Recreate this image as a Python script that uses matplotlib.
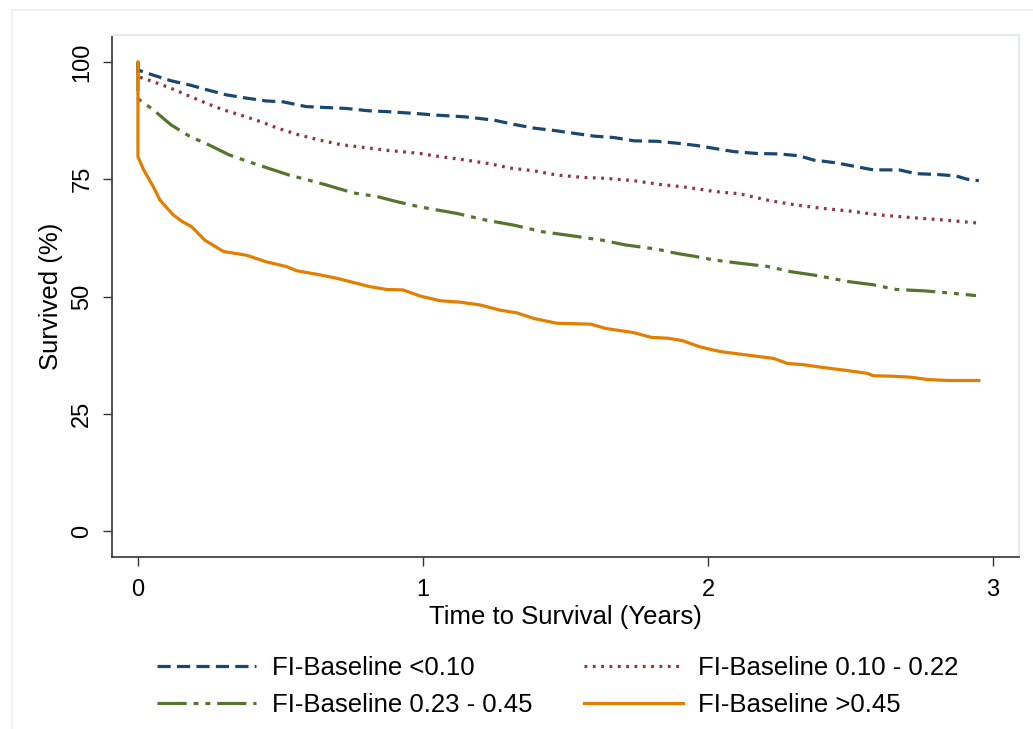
import matplotlib
matplotlib.use("Agg")
import matplotlib.pyplot as plt
from matplotlib.lines import Line2D

plt.rcParams['font.family'] = ['Liberation Sans', 'DejaVu Sans']
plt.rcParams['lines.scale_dashes'] = False

# survival curves (time in years, survival in %)
labels = ["FI-Baseline <0.10", "FI-Baseline 0.10 - 0.22",
          "FI-Baseline 0.23 - 0.45", "FI-Baseline >0.45"]

t_low = [0, 0, 0.054, 0.116, 0.182, 0.247, 0.31, 0.381, 0.45, 0.51, 0.59, 0.66, 0.73, 0.81, 0.88,
         0.98, 1.04, 1.15, 1.25, 1.31, 1.39, 1.46, 1.53, 1.60, 1.67, 1.74, 1.82, 1.89, 1.96, 2.02,
         2.09, 2.17, 2.25, 2.32, 2.37, 2.45, 2.51, 2.58, 2.67, 2.73, 2.81, 2.87, 2.91, 2.95]
s_low = [100, 98.3, 97.2, 96.0, 95.1, 94.0, 93.0, 92.3, 91.7, 91.5, 90.5, 90.3, 90.1, 89.6, 89.4,
         89.0, 88.7, 88.3, 87.6, 86.8, 85.9, 85.4, 84.8, 84.2, 83.9, 83.2, 83.1, 82.7, 82.2, 81.6,
         80.9, 80.5, 80.4, 80.0, 79.1, 78.5, 77.8, 77.0, 77.0, 76.2, 76.0, 75.7, 75.0, 74.7]

t_mid = [0, 0, 0.054, 0.116, 0.17, 0.24, 0.30, 0.37, 0.43, 0.49, 0.557, 0.627, 0.71, 0.79, 0.87,
         0.99, 1.04, 1.15, 1.235, 1.305, 1.39, 1.47, 1.56, 1.64, 1.74, 1.83, 1.91, 1.97, 2.02,
         2.11, 2.22, 2.31, 2.40, 2.50, 2.60, 2.72, 2.83, 2.94]
s_mid = [100, 96.9, 95.8, 94.4, 93.0, 91.2, 89.8, 88.5, 87.3, 85.9, 84.6, 83.5, 82.4, 81.8, 81.2,
         80.5, 80.0, 79.1, 78.3, 77.4, 76.8, 75.9, 75.4, 75.2, 74.7, 73.9, 73.4, 72.9, 72.4,
         71.9, 70.4, 69.5, 68.8, 68.2, 67.4, 66.8, 66.3, 65.7]

t_high = [0, 0, 0.054, 0.116, 0.18, 0.25, 0.32, 0.39, 0.45, 0.53, 0.60, 0.66, 0.755, 0.84, 0.91,
          0.99, 1.12, 1.22, 1.32, 1.42, 1.54, 1.63, 1.71, 1.82, 1.89, 1.95, 2.02, 2.11, 2.21,
          2.29, 2.39, 2.49, 2.58, 2.66, 2.76, 2.84, 2.94]
s_high = [100, 92.2, 89.8, 86.6, 84.2, 82.3, 80.2, 78.7, 77.5, 75.9, 74.8, 73.8, 72.1, 71.3, 70.2,
          69.1, 67.7, 66.3, 65.2, 63.8, 62.8, 62.0, 61.0, 60.1, 59.2, 58.6, 57.8, 57.1, 56.4,
          55.3, 54.4, 53.2, 52.5, 51.5, 51.2, 50.8, 50.2]

t_frail = [0, 0, 0.02, 0.054, 0.077, 0.1, 0.124, 0.155, 0.188, 0.235, 0.30, 0.381, 0.45, 0.52,
           0.557, 0.64, 0.697, 0.814, 0.873, 0.93, 0.99, 1.06, 1.13, 1.2, 1.27, 1.33, 1.39, 1.47,
           1.59, 1.64, 1.74, 1.80, 1.86, 1.91, 1.97, 2.01, 2.05, 2.14, 2.23, 2.28, 2.33, 2.40,
           2.49, 2.56, 2.58, 2.65, 2.71, 2.77, 2.84, 2.95]
s_frail = [100, 79.8, 77.0, 73.4, 70.6, 69.0, 67.4, 66.0, 64.9, 62.0, 59.6, 58.8, 57.4, 56.4,
           55.5, 54.6, 53.9, 52.1, 51.5, 51.4, 50.1, 49.1, 48.8, 48.2, 47.1, 46.5, 45.3, 44.3,
           44.1, 43.2, 42.3, 41.3, 41.1, 40.6, 39.3, 38.7, 38.2, 37.5, 36.8, 35.7, 35.5, 34.9,
           34.2, 33.6, 33.1, 33.0, 32.8, 32.3, 32.1, 32.1]

x_ticks = [0, 1, 2, 3]
y_ticks = [0, 25, 50, 75, 100]

fig = plt.figure(figsize=(10.33, 7.29), dpi=100)
ax = fig.add_axes([112 / 1033, 1 - 557 / 729, (1019 - 112) / 1033, (557 - 35) / 729])

lw = 2.3
l1, = ax.plot(t_low, s_low, color='#1a476f', lw=lw, ls=(0, (9.5, 4.5)))
l2, = ax.plot(t_mid, s_mid, color='#90353b', lw=lw, ls=(0, (2, 4)))
l3, = ax.plot(t_high, s_high, color='#55752f', lw=lw, ls=(0, (21, 5, 3.5, 5, 3.5, 5)))
l4, = ax.plot(t_frail, s_frail, color='#e37e00', lw=lw)

ax.set_xlim(-0.091, 3.091)
ax.set_ylim(-5.54, 105.76)
ax.set_xticks(x_ticks)
ax.set_yticks(y_ticks)
ax.tick_params(direction='out', length=6.5, width=1, color='#333333', labelsize=17)
ax.tick_params(axis='x', pad=9)
ax.tick_params(axis='y', pad=7)
plt.setp(ax.get_yticklabels(), rotation=90, va='center')

for s in ['left', 'bottom']:
    ax.spines[s].set_color('#333333')
    ax.spines[s].set_linewidth(1.2)
for s in ['top', 'right']:
    ax.spines[s].set_color('#e3e9ee')
    ax.spines[s].set_linewidth(1.5)

ax.set_xlabel("Time to Survival (Years)", fontsize=18.5, labelpad=3)
ax.set_ylabel("Survived (%)", fontsize=18.5, labelpad=6)

# outer graph region border (light)
fig.add_artist(Line2D([11.5 / 1033, 11.5 / 1033], [0, 1 - 10 / 729], color='#eceff2', lw=1.2))
fig.add_artist(Line2D([11.5 / 1033, 1], [1 - 10 / 729, 1 - 10 / 729], color='#eceff2', lw=1.2))

fig.legend([l1, l3, l2, l4], [labels[0], labels[2], labels[1], labels[3]],
           ncol=2, loc='center', bbox_to_anchor=(0.54, 0.058), frameon=False,
           fontsize=18.5, handlelength=3.85, handletextpad=0.6, columnspacing=2.0,
           labelspacing=0.5)

fig.savefig("out.png", dpi=100, facecolor='white')
